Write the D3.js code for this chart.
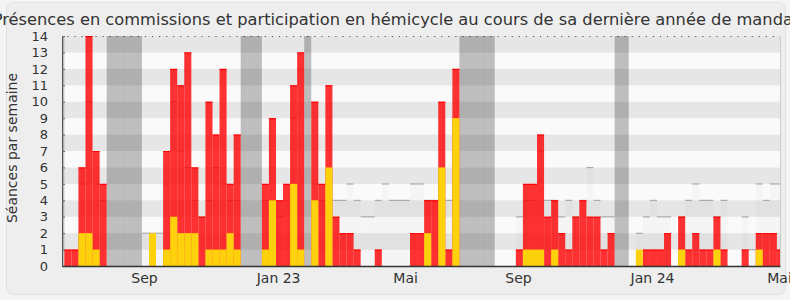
<!DOCTYPE html>
<html>
<head>
<meta charset="utf-8">
<script src="https://cdn.jsdelivr.net/npm/d3@7"></script>
<style>
  html, body { margin: 0; padding: 0; background: #f4f4f4; }
  svg { display: block; font-family: "DejaVu Sans", sans-serif; }
</style>
</head>
<body>
<svg id="chart" width="790" height="300"></svg>
<script>
// one entry per week, week 0 is cut on the left edge, week 102 on the right
const presence = [
  0, 1, 1, 6, 14, 7, 5, 0, 0, 0,
  0, 0, 0, 0, 0, 7, 12, 11, 13, 6,
  3, 10, 8, 12, 5, 8, 0, 0, 0, 5,
  9, 4, 5, 11, 13, 0, 10, 5, 11, 3,
  2, 2, 1, 0, 0, 1, 0, 0, 0, 0,
  2, 2, 4, 4, 10, 1, 12, 0, 0, 0,
  0, 0, 0, 0, 0, 1, 5, 5, 8, 3,
  4, 2, 1, 3, 4, 3, 3, 1, 2, 0,
  0, 0, 0, 1, 1, 1, 2, 0, 3, 1,
  2, 1, 1, 3, 1, 0, 0, 1, 0, 2,
  2, 2, 1
];
const participation = [
  0, 0, 0, 2, 2, 1, 0, 0, 0, 0,
  0, 0, 0, 2, 0, 1, 3, 2, 2, 2,
  0, 1, 1, 1, 2, 1, 0, 0, 0, 1,
  4, 0, 0, 5, 1, 0, 4, 0, 6, 0,
  0, 0, 0, 0, 0, 0, 0, 0, 0, 0,
  0, 0, 2, 0, 6, 0, 9, 0, 0, 0,
  0, 0, 0, 0, 0, 0, 1, 1, 1, 0,
  1, 0, 0, 0, 0, 0, 0, 0, 0, 0,
  0, 0, 1, 0, 0, 0, 0, 0, 1, 0,
  0, 0, 0, 1, 0, 0, 0, 0, 0, 1,
  0, 0, 0
];
const mediane = [
  0, 0, 0, 5, 10, 5, 4, 0, 0, 0,
  0, 0, 2, 2, 2, 5, 10, 7, 6, 4,
  3, 4, 6, 5, 4, 4, 0, 0, 0, 4,
  4, 3, 4, 9, 12, 0, 5, 4, 5, 4,
  4, 5, 4, 3, 3, 4, 5, 4, 4, 4,
  5, 5, 4, 4, 5, 4, 4, 0, 0, 0,
  0, 0, 0, 0, 0, 3, 4, 4, 7, 4,
  4, 3, 4, 3, 4, 6, 4, 3, 3, 0,
  0, 0, 2, 3, 4, 3, 3, 0, 3, 4,
  5, 4, 4, 3, 4, 0, 0, 3, 1, 5,
  4, 5, 5
];
const vacances = [0, 7, 8, 9, 10, 11, 26, 27, 28, 35, 57, 58, 59, 60, 61, 79, 80];
const tickWeeks = [12.3, 31.3, 49.3, 65.3, 84.3, 102.3];
const tickLabels = ['Sep', 'Jan 23', 'Mai', 'Sep', 'Jan 24', 'Mai'];

const weeks = d3.range(presence.length);
const svg = d3.select('#chart');

const plotLeft = 62, plotRight = 780, plotTop = 36, plotBottom = 266;
const x = d3.scaleLinear().domain([0.67, 102.44]).range([plotLeft, plotRight]);
const y = d3.scaleLinear().domain([0, 14]).range([plotBottom, plotTop]);

// panel
svg.append('rect')
  .attr('x', 6.5).attr('y', 2.5).attr('width', 779).attr('height', 292)
  .attr('rx', 7)
  .attr('fill', '#eeeeee').attr('stroke', '#e2e2e2');

svg.append('text')
  .attr('x', 396).attr('y', 25)
  .attr('text-anchor', 'middle')
  .attr('font-size', 16.25).attr('fill', '#333')
  .text('Présences en commissions et participation en hémicycle au cours de sa dernière année de mandat');

svg.append('clipPath').attr('id', 'plot-clip')
  .append('rect').attr('x', plotLeft).attr('y', plotTop)
  .attr('width', plotRight - plotLeft).attr('height', plotBottom - plotTop);

const plot = svg.append('g').attr('clip-path', 'url(#plot-clip)');

// alternating bands
plot.selectAll('rect.band')
  .data(d3.range(14))
  .join('rect')
  .attr('class', 'band')
  .attr('x', plotLeft).attr('width', plotRight - plotLeft)
  .attr('y', d => y(d + 1)).attr('height', d => y(d) - y(d + 1))
  .attr('fill', d => d % 2 ? '#e6e6e6' : '#fafafa');

// vacations
plot.selectAll('rect.vac')
  .data(vacances)
  .join('rect')
  .attr('class', 'vac')
  .attr('x', d => x(d)).attr('width', d => x(d + 1) - x(d))
  .attr('y', plotTop).attr('height', plotBottom - plotTop)
  .attr('fill', 'rgba(0,0,0,0.24)');

// median of all deputies
const med = weeks.filter(i => mediane[i] > 0);
plot.selectAll('rect.med')
  .data(med)
  .join('rect')
  .attr('class', 'med')
  .attr('x', d => x(d)).attr('width', d => x(d + 1) - x(d))
  .attr('y', d => y(mediane[d])).attr('height', d => plotBottom - y(mediane[d]))
  .attr('fill', 'rgba(0,0,0,0.02)');
plot.selectAll('rect.medtop')
  .data(med)
  .join('rect')
  .attr('class', 'medtop')
  .attr('x', d => x(d)).attr('width', d => x(d + 1) - x(d))
  .attr('y', d => y(mediane[d]) - 0.5).attr('height', 1.2)
  .attr('fill', '#aaaaaa');

// red bars
const pres = weeks.filter(i => presence[i] > 0);
plot.selectAll('rect.pres')
  .data(pres)
  .join('rect')
  .attr('class', 'pres')
  .attr('x', d => x(d)).attr('width', d => x(d + 1) - x(d))
  .attr('y', d => y(presence[d])).attr('height', d => plotBottom - y(presence[d]))
  .attr('fill', 'rgba(255,0,0,0.8)');
plot.selectAll('rect.prestop')
  .data(pres)
  .join('rect')
  .attr('class', 'prestop')
  .attr('x', d => x(d)).attr('width', d => x(d + 1) - x(d))
  .attr('y', d => y(presence[d])).attr('height', 1)
  .attr('fill', '#ff0000');

// yellow bars
plot.selectAll('rect.part')
  .data(weeks.filter(i => participation[i] > 0))
  .join('rect')
  .attr('class', 'part')
  .attr('x', d => x(d)).attr('width', d => x(d + 1) - x(d))
  .attr('y', d => y(participation[d])).attr('height', d => plotBottom - y(participation[d]))
  .attr('fill', '#fdd10b');

// dotted top line, one dot per week
plot.selectAll('rect.dot')
  .data(weeks)
  .join('rect')
  .attr('class', 'dot')
  .attr('x', d => x(d + 0.5) - 0.6).attr('y', plotTop - 0.5)
  .attr('width', 1.2).attr('height', 1.2)
  .attr('fill', '#111');

// right edge
svg.append('line')
  .attr('x1', plotRight + 0.5).attr('x2', plotRight + 0.5).attr('y1', plotTop).attr('y2', plotBottom)
  .attr('stroke', '#cccccc');

// axes
const yAxis = svg.append('g')
  .attr('transform', `translate(${plotLeft},0)`)
  .call(d3.axisLeft(y).ticks(14).tickSizeInner(-3).tickSizeOuter(0).tickPadding(14));
yAxis.select('.domain').attr('stroke', '#555');
yAxis.selectAll('.tick line').attr('stroke', '#666');
yAxis.selectAll('.tick text')
  .attr('font-family', '"DejaVu Sans", sans-serif').attr('font-size', 13).attr('fill', '#333');

const xAxis = svg.append('g')
  .attr('transform', `translate(0,${plotBottom})`)
  .call(d3.axisBottom(x).tickValues(tickWeeks).tickFormat((d, i) => tickLabels[i]).tickSize(0).tickPadding(7));
xAxis.select('.domain').attr('stroke', '#333').attr('stroke-width', 1.5);
xAxis.selectAll('.tick text')
  .attr('font-family', '"DejaVu Sans", sans-serif').attr('font-size', 14).attr('fill', '#333');

svg.append('text')
  .attr('transform', 'translate(17,148) rotate(-90)')
  .attr('text-anchor', 'middle')
  .attr('font-size', 14).attr('fill', '#333')
  .text('Séances par semaine');
</script>
</body>
</html>
